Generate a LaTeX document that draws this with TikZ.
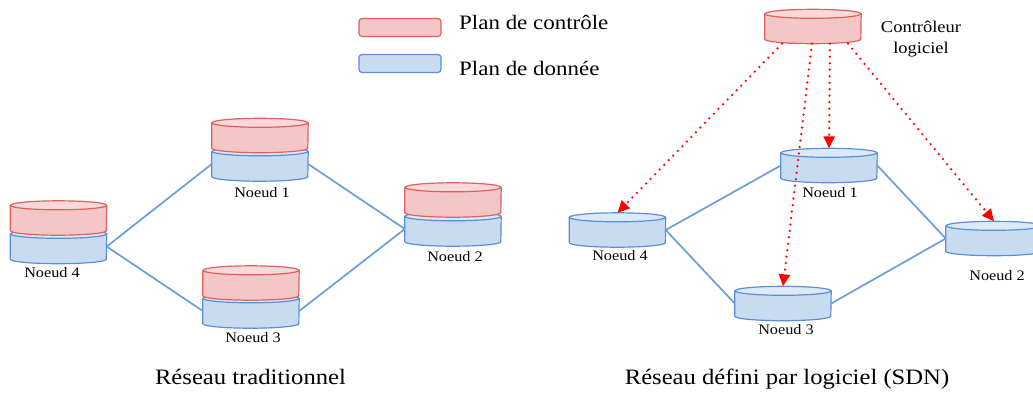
\documentclass[tikz,border=0pt]{standalone}
\usepackage{fontspec}
\setmainfont{Liberation Serif}[FakeStretch=1.12]
\usetikzlibrary{arrows.meta}

\definecolor{ctrlfill}{HTML}{F4C6C6}
\definecolor{ctrltop}{HTML}{F8D8D8}
\definecolor{ctrlline}{HTML}{E0605F}
\definecolor{datafill}{HTML}{C8DCF1}
\definecolor{datatop}{HTML}{DCE9F7}
\definecolor{dataline}{HTML}{5B8ED6}
\definecolor{linkline}{HTML}{6E9CDA}

\tikzset{
  discbox/.style={rectangle, minimum width=96pt, minimum height=34pt, inner sep=0pt},
  keybox/.style={rectangle, rounded corners=3pt, minimum width=82pt, minimum height=18pt, line width=1.2pt},
  nodelabel/.style={inner sep=0pt, anchor=base, font=\fontsize{14.5}{17}\selectfont},
  keylabel/.style={inner sep=0pt, anchor=base west, font=\fontsize{20.5}{24}\selectfont},
  nettitle/.style={inner sep=0pt, anchor=base, font=\fontsize{22}{26}\selectfont},
  link/.style={linkline, line width=1.7pt},
  ctrlmsg/.style={red, line width=2.5pt, line cap=round, dash pattern=on 0pt off 6.5pt,
    -{Triangle[length=12pt,width=11pt]}},
}

\newcommand{\netdisc}[4]{%
  \node[discbox] (#1) at (#2,#3) {};
  \filldraw[fill=#4fill, draw=#4line, line width=1.2pt]
    ([yshift=-4.5pt]#1.north west) -- ([yshift=4.5pt]#1.south west)
    arc[start angle=180, end angle=360, x radius=48pt, y radius=4.5pt]
    -- ([yshift=-4.5pt]#1.north east);
  \filldraw[fill=#4top, draw=#4line, line width=1.2pt]
    ([yshift=-4.5pt]#1.north) ellipse[x radius=48pt, y radius=4.5pt];
}

\begin{document}
\begin{tikzpicture}[x=1pt,y=1pt]

  \useasboundingbox (0,0) rectangle (1033,-392);

  \node[keybox, fill=ctrlfill, draw=ctrlline] (ctrlkey) at (400,-27.5) {};
  \node[keybox, fill=datafill, draw=dataline] (datakey) at (400,-63.5) {};
  \node[keylabel] (ctrltext) at (459,-29.5) {Plan de contrôle};
  \node[keylabel] (datatext) at (459,-75) {Plan de donnée};

  \netdisc{t1d}{260}{-164}{data}
  \netdisc{t1c}{260}{-135.5}{ctrl}
  \netdisc{t2d}{453}{-229}{data}
  \netdisc{t2c}{453}{-200}{ctrl}
  \netdisc{t3d}{251}{-311}{data}
  \netdisc{t3c}{251}{-283}{ctrl}
  \netdisc{t4d}{58.5}{-246.5}{data}
  \netdisc{t4c}{58.5}{-218}{ctrl}

  \draw[link] (t4d.east) -- (t1d.west);
  \draw[link] (t4d.east) -- (t3d.west);
  \draw[link] (t1d.east) -- (t2d.west);
  \draw[link] (t3d.east) -- (t2d.west);

  \node[nodelabel] (t1l) at (262,-197) {Noeud 1};
  \node[nodelabel] (t2l) at (455,-261.5) {Noeud 2};
  \node[nodelabel] (t3l) at (253,-342.5) {Noeud 3};
  \node[nodelabel] (t4l) at (52,-277.5) {Noeud 4};

  \netdisc{c}{813}{-26.5}{ctrl}
  \node[inner sep=0pt, align=center, font=\fontsize{16.5}{21}\selectfont] (cl) at (921,-38.6) {Contrôleur\\logiciel};

  \netdisc{s1}{829}{-165.5}{data}
  \netdisc{s2}{994}{-238.5}{data}
  \netdisc{s3}{783}{-303.5}{data}
  \netdisc{s4}{617.5}{-230}{data}

  \draw[link] (s4.east) -- (s1.west);
  \draw[link] (s4.east) -- (s3.west);
  \draw[link] (s1.east) -- (s2.west);
  \draw[link] (s3.east) -- (s2.west);

  \draw[ctrlmsg] ([xshift=-31pt]c.south) -- (s4.north);
  \draw[ctrlmsg] ([xshift=-1pt]c.south) -- (s3.north);
  \draw[ctrlmsg] ([xshift=17pt]c.south) -- (s1.north);
  \draw[ctrlmsg] ([xshift=35pt]c.south) -- (s2.north);

  \node[nodelabel] (s1l) at (830,-197) {Noeud 1};
  \node[nodelabel] (s2l) at (997,-280) {Noeud 2};
  \node[nodelabel] (s3l) at (786,-334.5) {Noeud 3};
  \node[nodelabel] (s4l) at (620,-260.5) {Noeud 4};

  \node[nettitle] (tradtitle) at (250.5,-384) {Réseau traditionnel};
  \node[nettitle] (sdntitle) at (787,-384) {Réseau défini par logiciel (SDN)};

\end{tikzpicture}
\end{document}
